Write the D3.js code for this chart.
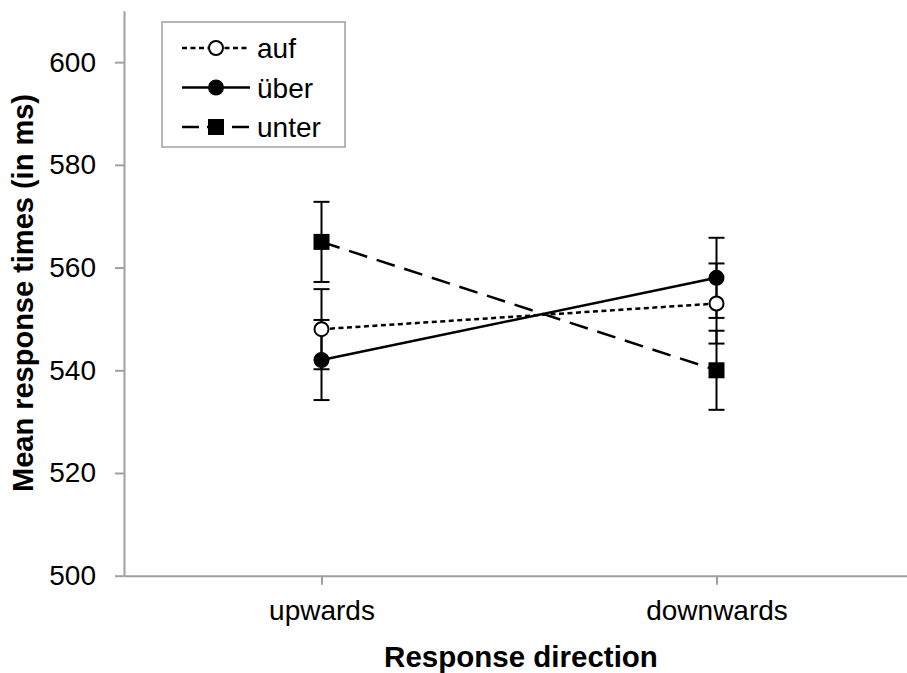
<!DOCTYPE html>
<html>
<head>
<meta charset="utf-8">
<script src="https://cdnjs.cloudflare.com/ajax/libs/d3/7.8.5/d3.min.js"></script>
<style>
  body { margin: 0; background: #fff; }
  svg { display: block; font-family: "Liberation Sans", Arial, sans-serif; }
  .axis path, .axis line { stroke: #a0a0a0; stroke-width: 2; }
  .axis text { font-size: 28px; fill: #000; }
</style>
</head>
<body>
<div id="chart"></div>
<script>
var width = 907;
var height = 673;

// data
var categories = ["upwards", "downwards"];
var seriesNames = ["auf", "über", "unter"];
var aufValues = [548, 553];
var ueberValues = [542, 558];
var unterValues = [565, 540];
var aufErr = [7.8, 7.8];
var ueberErr = [7.8, 7.8];
var unterErr = [7.8, 7.7];
var yTicks = [500, 520, 540, 560, 580, 600];

var series = [
  {name: seriesNames[0], values: aufValues, err: aufErr, marker: "circle", fill: "#fff", dash: "5,3.5"},
  {name: seriesNames[1], values: ueberValues, err: ueberErr, marker: "circle", fill: "#000", dash: null},
  {name: seriesNames[2], values: unterValues, err: unterErr, marker: "square", fill: "#000", dash: "19,10"}
];

var svg = d3.select("#chart").append("svg").attr("width", width).attr("height", height);

var xscale = d3.scalePoint().domain(categories).range([124, 914]).padding(0.5);
var yscale = d3.scaleLinear().domain([500, 610]).range([575.7, 10.8]);

var yy = d3.axisLeft(yscale).tickValues(yTicks).tickSize(9).tickSizeOuter(0).tickPadding(19);
var xx = d3.axisBottom(xscale).tickSize(9).tickSizeOuter(0).tickPadding(15);

svg.append("g").attr("class", "axis yAxis").attr("transform", "translate(124,0)").call(yy);
svg.append("g").attr("class", "axis xAxis").attr("transform", "translate(0,575.7)").call(xx);

// axis titles
svg.append("text").attr("x", 521).attr("y", 667).attr("text-anchor", "middle")
  .attr("font-size", 29.5).attr("font-weight", "bold").text("Response direction");
svg.append("text").attr("transform", "translate(33,293) rotate(-90)").attr("text-anchor", "middle")
  .attr("font-size", 29).attr("font-weight", "bold").text("Mean response times (in ms)");

var line = d3.line()
  .x(function(d, i) { return xscale(categories[i]); })
  .y(function(d) { return yscale(d); });

// series lines
series.forEach(function(s) {
  svg.append("path").attr("d", line(s.values)).attr("fill", "none")
    .attr("stroke", "#000").attr("stroke-width", 2.5)
    .attr("stroke-dasharray", s.dash);
});

// error bars
series.forEach(function(s) {
  s.values.forEach(function(v, i) {
    var cx = xscale(categories[i]);
    var g = svg.append("g").attr("stroke", "#000").attr("stroke-width", 2);
    g.append("line").attr("x1", cx).attr("x2", cx).attr("y1", yscale(v - s.err[i])).attr("y2", yscale(v + s.err[i]));
    g.append("line").attr("x1", cx - 8).attr("x2", cx + 8).attr("y1", yscale(v - s.err[i])).attr("y2", yscale(v - s.err[i]));
    g.append("line").attr("x1", cx - 8).attr("x2", cx + 8).attr("y1", yscale(v + s.err[i])).attr("y2", yscale(v + s.err[i]));
  });
});

function drawMarker(g, s, cx, cy) {
  if (s.marker === "circle") {
    g.append("circle").attr("cx", cx).attr("cy", cy).attr("r", 7)
      .attr("fill", s.fill).attr("stroke", "#000").attr("stroke-width", 2);
  } else {
    g.append("rect").attr("x", cx - 8).attr("y", cy - 8).attr("width", 16).attr("height", 16)
      .attr("fill", s.fill);
  }
}

// markers
series.forEach(function(s) {
  s.values.forEach(function(v, i) {
    drawMarker(svg, s, xscale(categories[i]), yscale(v));
  });
});

// legend
var legend = svg.append("g");
legend.append("rect").attr("x", 162).attr("y", 22).attr("width", 183).attr("height", 125)
  .attr("fill", "#fff").attr("stroke", "#a0a0a0").attr("stroke-width", 1.5);

series.forEach(function(s, i) {
  var cy = 48 + i * 39.5;
  legend.append("line").attr("x1", 182).attr("x2", 250).attr("y1", cy).attr("y2", cy)
    .attr("stroke", "#000").attr("stroke-width", 2.5)
    .attr("stroke-dasharray", s.dash === "19,10" ? "17,8" : s.dash);
  drawMarker(legend, s, 216, cy);
  legend.append("text").attr("x", 257).attr("y", cy + 10).attr("font-size", 28).text(s.name);
});
</script>
</body>
</html>
